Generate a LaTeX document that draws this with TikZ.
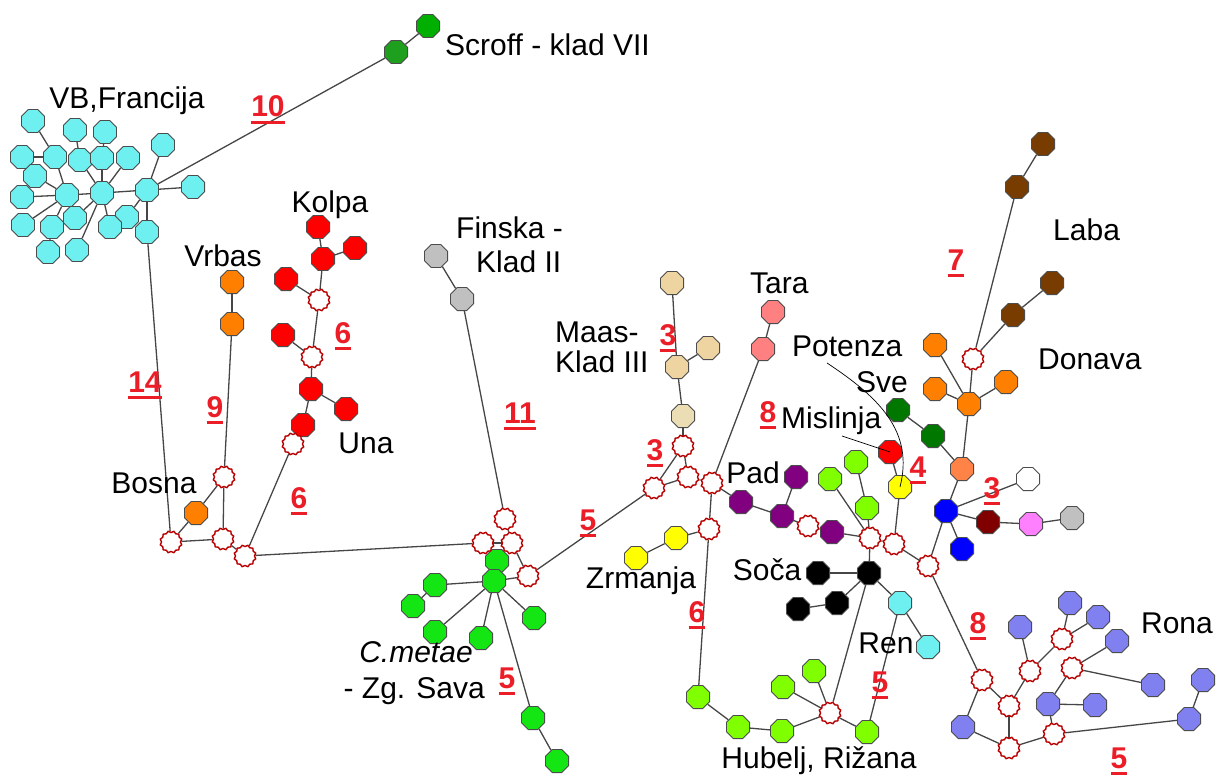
\documentclass[tikz,border=0pt]{standalone}
\usepackage{fontspec}
\setmainfont{Liberation Sans}
\usetikzlibrary{shapes.geometric}
\pgfdeclarelayer{links}
\pgfsetlayers{links,main}

% haplotype colours
\definecolor{cyanhap}{RGB}{110,240,240}
\definecolor{scroffa}{RGB}{0,175,0}
\definecolor{scroffb}{RGB}{30,160,30}
\definecolor{redhap}{RGB}{255,0,0}
\definecolor{orangehap}{RGB}{255,128,0}
\definecolor{greyhap}{RGB}{192,192,192}
\definecolor{metaegreen}{RGB}{20,230,20}
\definecolor{tanhap}{RGB}{238,212,160}
\definecolor{tanlight}{RGB}{236,222,180}
\definecolor{tarapink}{RGB}{255,128,128}
\definecolor{purplehap}{RGB}{128,0,128}
\definecolor{limehap}{RGB}{128,255,0}
\definecolor{yellowhap}{RGB}{255,255,0}
\definecolor{brownhap}{RGB}{120,60,0}
\definecolor{svegreen}{RGB}{0,120,0}
\definecolor{coralhap}{RGB}{255,130,70}
\definecolor{bluehap}{RGB}{0,0,255}
\definecolor{darkredhap}{RGB}{128,0,0}
\definecolor{pinkhap}{RGB}{255,128,255}
\definecolor{ronahap}{RGB}{128,128,240}
\definecolor{medred}{RGB}{185,0,0}
\definecolor{numred}{RGB}{235,30,40}
\definecolor{linkgrey}{RGB}{70,70,70}

\newsavebox\numbox
\newcommand\ulnum[1]{\sbox\numbox{#1}\rlap{\rule[-7pt]{\wd\numbox}{3pt}}\usebox\numbox}

\begin{document}
\begin{tikzpicture}[x=1pt,y=-1pt,
  hap/.style={regular polygon, regular polygon sides=8, minimum size=25pt,
    inner sep=0pt, draw=black!70, line width=0.9pt},
  med/.style={star, star points=12, star point ratio=0.86, minimum size=19pt,
    inner sep=0pt, draw=medred, fill=white, line width=1.4pt},
  lnk/.style={draw=linkgrey, line width=1.3pt},
  callout/.style={draw=black, line width=0.7pt},
  lbl/.style={font=\fontsize{30}{32}\selectfont, text=black, inner sep=0pt},
  num/.style={font=\fontsize{30}{32}\selectfont\bfseries, text=numred, inner sep=0pt, anchor=base}]

\path[use as bounding box] (0,0) rectangle (1216,776);

% ---------- haplotypes ----------
\foreach \n/\x/\y in {c1/33/121, c2/75/130, c3/105/132, c4/163/145, c5/22/157,
  c6/55/157, c7/80/160, c8/102/158, c9/128/158, c10/35/176, c11/67/195,
  c12/102/193, c13/147/190, c14/193/187, c15/22/197, c16/23/225, c17/75/218,
  c18/127/217, c19/110/227, c20/52/227, c21/147/232, c22/48/252, c23/77/250,
  rn1/900/603, rn2/928/647}
  \node[hap,fill=cyanhap] (\n) at (\x,\y) {};

\node[hap,fill=scroffa] (s1) at (428,26) {};
\node[hap,fill=scroffb] (s2) at (396,52) {};

\foreach \n/\x/\y in {k1/318/227, k2/323/259, k3/355/248, k4/286/279, k5/283/335,
  u1/311/389, u2/346/409, u3/303/425, r1/890/452}
  \node[hap,fill=redhap] (\n) at (\x,\y) {};

\foreach \n/\x/\y in {v1/232/282, v2/232/324, b1/196/513,
  d1/935/345, d2/935/389, d3/1006/382, d4/969/404}
  \node[hap,fill=orangehap] (\n) at (\x,\y) {};

\foreach \n/\x/\y in {f1/436/256, f2/462/299, gy/1072/518}
  \node[hap,fill=greyhap] (\n) at (\x,\y) {};

\foreach \n/\x/\y in {g1/497/561, g2/494/581, g3/435/585, g4/413/606, g5/435/632,
  g6/481/638, g7/534/618, g8/533/718, g9/557/761}
  \node[hap,fill=metaegreen] (\n) at (\x,\y) {};

\foreach \n/\x/\y in {a1/672/283, a2/677/367, a3/708/348}
  \node[hap,fill=tanhap] (\n) at (\x,\y) {};
\node[hap,fill=tanlight] (a4) at (683,416) {};

\node[hap,fill=tarapink] (t1) at (773,312) {};
\node[hap,fill=tarapink] (t2) at (763,349) {};

\foreach \n/\x/\y in {p1/741/502, p2/796/477, p3/782/516, p4/832/532}
  \node[hap,fill=purplehap] (\n) at (\x,\y) {};

\foreach \n/\x/\y in {l1/830/479, l2/856/462, l3/867/508, h1/698/697, h2/738/727,
  h3/782/731, h4/783/687, h5/814/671, h6/867/732}
  \node[hap,fill=limehap] (\n) at (\x,\y) {};

\foreach \n/\x/\y in {y1/900/487, z1/676/538, z2/636/558}
  \node[hap,fill=yellowhap] (\n) at (\x,\y) {};

\foreach \n/\x/\y in {so1/869/573, so2/818/573, so3/837/603, so4/798/609}
  \node[hap,fill=black] (\n) at (\x,\y) {};

\foreach \n/\x/\y in {lb1/1043/144, lb2/1017/187, lb3/1052/283, lb4/1013/315}
  \node[hap,fill=brownhap] (\n) at (\x,\y) {};

\node[hap,fill=svegreen] (sv1) at (898,410) {};
\node[hap,fill=svegreen] (sv2) at (933,436) {};
\node[hap,fill=coralhap] (co) at (962,469) {};
\node[hap,fill=bluehap] (bl1) at (946,511) {};
\node[hap,fill=bluehap] (bl2) at (962,549) {};
\node[hap,fill=white] (wh) at (1028,479) {};
\node[hap,fill=darkredhap] (dr) at (988,522) {};
\node[hap,fill=pinkhap] (pk) at (1031,524) {};

\foreach \n/\x/\y in {ro1/963/727, ro2/1020/627, ro3/1070/603, ro4/1098/617,
  ro5/1117/641, ro6/1153/685, ro7/1048/704, ro8/1095/705, ro9/1189/719,
  ro10/1203/680}
  \node[hap,fill=ronahap] (\n) at (\x,\y) {};

% ---------- median vectors ----------
\foreach \n/\x/\y in {mk1/319/300, mk2/312/357, mu/293/444, mb1/224/477,
  mb2/171/542, mb3/223/539, mb4/245/556, mf/505/519, mj1/483/543, mj2/512/543,
  mj3/528/576, ma1/683/446, ma2/688/477, ma3/654/488, ma4/712/483, mp/808/526,
  mc1/870/538, mc2/894/544, mc3/928/566, mz/709/529, mh/830/713, ml/973/359,
  mr1/982/680, mr2/1009/706, mr3/1009/748, mr4/1030/671, mr5/1062/639,
  mr6/1072/668, mr7/1054/734}
  \node[med] (\n) at (\x,\y) {};

% ---------- links ----------
\begin{pgfonlayer}{links}
\foreach \a/\b in {c1/c6, c5/c6, c6/c11, c10/c11, c15/c11, c16/c11, c20/c11,
  c22/c20, c11/c12, c7/c12, c2/c7, c8/c12, c3/c8, c9/c12, c17/c12, c19/c12,
  c23/c12, c12/c13, c4/c13, c14/c13, c18/c13, c21/c13, c13/s2, s1/s2,
  k1/k2, k2/k3, k2/mk1, k4/mk1, mk1/mk2, k5/mk2, mk2/u1, u1/u2, u1/u3, u3/mu,
  mu/mb4, v1/v2, v2/mb1, mb1/b1, b1/mb2, mb1/mb3, mb3/mb2, mb3/mb4, mb2/c21,
  mb4/mj1, mj1/mj2, mj2/mf, mf/f2, f1/f2, mj2/mj3, mj3/g2, g1/g2, g2/g3,
  g3/g4, g2/g5, g2/g6, g2/g7, g2/g8, g8/g9,
  mj3/ma3, a1/a2, a2/a3, a2/a4, a4/ma1, ma1/ma2, ma1/ma3, ma3/ma2, ma2/ma4,
  t1/t2, t2/ma4, ma4/p1, ma4/mz, mz/z1, z1/z2, mz/h1,
  p1/p3, p3/p2, p3/mp, mp/p4, p4/mc1, l1/mc1, l2/l3, l3/mc1, mc1/mc2, mc2/y1,
  y1/r1, mc2/mc3, mc1/so1, so1/so2, so1/so3, so3/so4, so1/rn1, rn1/rn2,
  so1/mh, rn1/h6, h1/h2, h2/h3, h3/mh, h4/mh, h5/mh, mh/h6,
  lb1/lb2, lb2/ml, lb3/lb4, lb4/ml, ml/d4, d1/d4, d2/d4, d3/d4, d4/co,
  sv1/sv2, sv2/co, co/bl1, bl1/wh, bl1/dr, dr/pk, pk/gy, bl1/bl2, bl1/mc3,
  mc3/mr1, mr1/ro1, mr1/mr2, ro1/mr3, mr2/mr3, mr2/mr4, mr4/ro2, mr4/mr5,
  mr5/ro3, mr5/ro4, mr6/ro5, mr6/ro6, mr6/ro7, ro7/ro8, ro7/mr7, mr3/mr7,
  mr7/ro9, ro9/ro10}
  \draw[lnk] (\a) -- (\b);
\end{pgfonlayer}

% ---------- callout lines ----------
\coordinate (mislinjatip) at (842,436);
\coordinate (potenzatip) at (827,363);
\draw[callout] (mislinjatip) -- (r1.center);
\draw[callout] (potenzatip) .. controls (880,398) and (914,432) .. (y1.center);

% ---------- region labels ----------
\node[lbl, anchor=base west] (lscroff) at (445,56) {Scroff - klad VII};
\node[lbl, anchor=base] (lvb) at (127,108) {VB,Francija};
\node[lbl, anchor=base] (lkolpa) at (330,212) {Kolpa};
\node[lbl, anchor=base] (lvrbas) at (223,266) {Vrbas};
\node[lbl, anchor=base west] (lfin) at (456,238) {Finska -};
\node[lbl, anchor=base west] (lfin2) at (476,272) {Klad II};
\node[lbl, anchor=base west] (lmaas) at (555,342) {Maas-};
\node[lbl, anchor=base west] (lmaas2) at (555,372) {Klad III};
\node[lbl, anchor=base west] (ltara) at (750,293) {Tara};
\node[lbl, anchor=base west] (lpot) at (792,356) {Potenza};
\node[lbl, anchor=base west] (lsve) at (856,392) {Sve};
\node[lbl, anchor=base west] (ldon) at (1038,369) {Donava};
\node[lbl, anchor=base west] (llaba) at (1053,240) {Laba};
\node[lbl, anchor=base west] (lmis) at (781,428) {Mislinja};
\node[lbl, anchor=base] (luna) at (366,453) {Una};
\node[lbl, anchor=base] (lbosna) at (154,493) {Bosna};
\node[lbl, anchor=base] (lpad) at (753,483) {Pad};
\node[lbl, anchor=base] (lzrm) at (641,588) {Zrmanja};
\node[lbl, anchor=base] (lsoca) at (767,580) {Soča};
\node[lbl, anchor=base] (lren) at (886,653) {Ren};
\node[lbl, anchor=base] (lrona) at (1177,633) {Rona};
\node[lbl, anchor=base, font=\fontsize{30}{32}\selectfont\itshape] (lmetae) at (416,662) {C.metae};
\node[lbl, anchor=base east] (lsava) at (485,698) {- Zg. Sava};
\node[lbl, anchor=base] (lhub) at (819,768) {Hubelj, Rižana};

% ---------- mutation counts ----------
\node[num] (n10) at (268,117) {\ulnum{10}};
\node[num] (n6a) at (343,343) {\ulnum{6}};
\node[num] (n14) at (145,392) {\ulnum{14}};
\node[num] (n9) at (215,417) {\ulnum{9}};
\node[num] (n11) at (520,423) {\ulnum{11}};
\node[num] (n6b) at (299,508) {\ulnum{6}};
\node[num] (n3a) at (668,345) {\ulnum{3}};
\node[num] (n3b) at (655,460) {\ulnum{3}};
\node[num] (n7) at (956,270) {\ulnum{7}};
\node[num] (n8a) at (768,422) {\ulnum{8}};
\node[num] (n4) at (918,477) {\ulnum{4}};
\node[num] (n3c) at (992,498) {\ulnum{3}};
\node[num] (n5a) at (588,530) {\ulnum{5}};
\node[num] (n6c) at (697,622) {\ulnum{6}};
\node[num] (n8b) at (978,633) {\ulnum{8}};
\node[num] (n5b) at (507,688) {\ulnum{5}};
\node[num] (n5c) at (880,692) {\ulnum{5}};
\node[num] (n5d) at (1119,768) {\ulnum{5}};
\end{tikzpicture}
\end{document}
